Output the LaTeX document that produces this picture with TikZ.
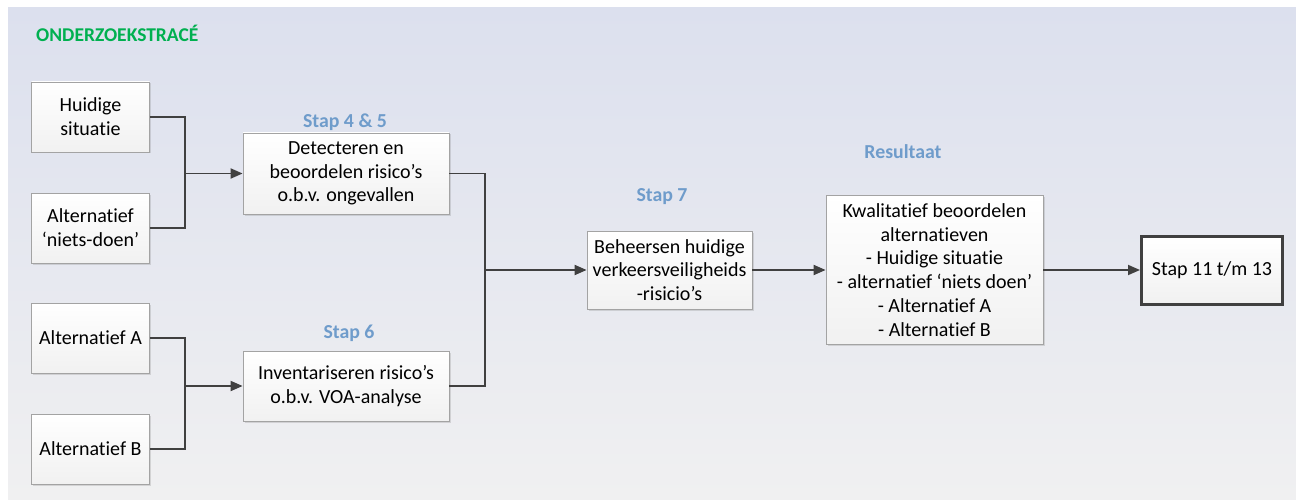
\documentclass[tikz,border=0pt]{standalone}
\usepackage{fontspec}
\setmainfont{Carlito}[Ligatures=NoCommon]
\usetikzlibrary{arrows.meta,shadows}
\definecolor{bgtop}{HTML}{DCE0EE}
\definecolor{bgbot}{HTML}{F0F0F1}
\definecolor{stepblue}{HTML}{6F9CCB}
\definecolor{titlegreen}{HTML}{00B050}
\definecolor{edgegray}{HTML}{A3A3A3}
\definecolor{linegray}{HTML}{404040}
\definecolor{boxbottom}{HTML}{F1F1F1}

\begin{document}
\begin{tikzpicture}[x=1pt,y=-1pt,
  box/.style={draw=edgegray, line width=0.8pt, top color=white, bottom color=boxbottom,
    drop shadow={shadow xshift=1.5pt, shadow yshift=-1.5pt, opacity=0.25},
    align=center, inner sep=0pt, text=black,
    font=\fontsize{20}{23.8}\selectfont},
  endbox/.style={box, draw=linegray, line width=3pt},
  steplabel/.style={text=stepblue, font=\fontsize{19.8}{22}\selectfont\bfseries},
  conn/.style={draw=linegray, line width=1.8pt},
  arr/.style={conn, -{Triangle[length=12pt,width=10pt]}}
]
\useasboundingbox (0,0) rectangle (1296,500);
\fill[white] (0,0) rectangle (1296,500);
\shade[top color=bgtop, bottom color=bgbot] (8,8) rectangle (1296,500);

% title
\node[anchor=west, inner sep=0pt, text=titlegreen, font=\fontsize{19.5}{22}\selectfont\bfseries] (title) at (36,33) {ONDERZOEKSTRACÉ};

% input boxes
\node[box, minimum width=118pt, minimum height=70pt] (hs) at (90.5,117) {Huidige\\situatie};
\node[box, minimum width=118pt, minimum height=70pt] (nd) at (90.5,228) {Alternatief\\‘niets-doen’};
\node[box, minimum width=118pt, minimum height=70pt] (aa) at (90.5,338) {Alternatief A};
\node[box, minimum width=118pt, minimum height=70pt] (ab) at (90.5,449) {Alternatief B};

% process boxes
\node[box, minimum width=206pt, minimum height=81pt] (det) at (346,173.5) {Detecteren en\\beoordelen risico’s\\o.b.v. ongevallen};
\node[box, minimum width=206pt, minimum height=70pt] (inv) at (346,386) {Inventariseren risico’s\\o.b.v. VOA-analyse};
\node[box, minimum width=165pt, minimum height=78pt] (bh) at (669.5,270) {Beheersen huidige\\verkeersveiligheids\\-risicio’s};
\node[box, minimum width=217pt, minimum height=149pt] (kw) at (934.5,270) {Kwalitatief beoordelen\\alternatieven\\- Huidige situatie\\- alternatief ‘niets doen’\\- Alternatief A\\- Alternatief B};
\node[endbox, minimum width=141pt, minimum height=68pt] (end) at (1212,270) {Stap 11 t/m 13};

% step labels
\node[steplabel] (l45) at (345,122) {Stap 4 \& 5};
\node[steplabel] (l6) at (349,333) {Stap 6};
\node[steplabel] (l7) at (662,197) {Stap 7};
\node[steplabel] (lres) at (903,152) {Resultaat};

% junction points
\coordinate (j1) at (185,173.5);
\coordinate (j2) at (185,386);
\coordinate (j3) at (485,270);

% connectors
\draw[conn] (hs.east) -| (j1);
\draw[conn] (nd.east) -| (j1);
\draw[arr] (j1) -- (det.west);
\draw[conn] (aa.east) -| (j2);
\draw[conn] (ab.east) -| (j2);
\draw[arr] (j2) -- (inv.west);
\draw[conn] (det.east) -| (j3);
\draw[conn] (inv.east) -| (j3);
\draw[arr] (j3) -- (bh.west);
\draw[arr] (bh.east) -- (kw.west);
\draw[arr] (kw.east) -- (end.west);
\end{tikzpicture}
\end{document}
